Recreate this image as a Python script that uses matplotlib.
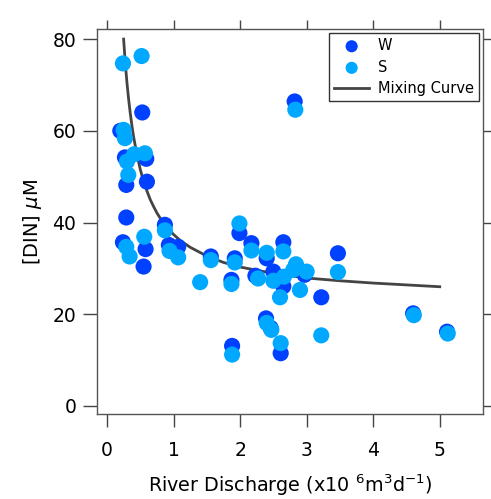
import matplotlib
matplotlib.use("Agg")
import matplotlib.pyplot as plt

# Data
w_discharge = [0.53, 0.20, 0.27, 0.59, 0.29, 0.60, 0.29, 0.87, 0.24, 0.58, 0.55,
               1.07, 0.93, 1.56, 1.99, 1.92, 1.87, 2.17, 2.40, 2.65, 2.23, 2.50,
               2.65, 2.97, 3.22, 3.47, 2.39, 2.46, 1.88, 2.61, 4.60, 5.11, 2.82]
w_din = [64.0, 60.0, 54.2, 53.9, 48.2, 48.9, 41.1, 39.5, 35.7, 34.2, 30.4,
         34.7, 35.1, 32.6, 37.7, 32.2, 27.5, 35.5, 32.2, 35.7, 28.4, 29.3,
         26.1, 28.6, 23.7, 33.3, 19.1, 17.0, 13.1, 11.5, 20.2, 16.2, 66.4]

s_discharge = [0.24, 0.52, 0.25, 0.27, 0.41, 0.57, 0.30, 0.32, 0.87, 0.29, 0.34,
               0.56, 0.94, 1.07, 1.56, 1.40, 1.99, 1.92, 1.87, 2.17, 2.40, 2.65,
               2.27, 2.50, 2.66, 2.60, 2.84, 3.00, 2.90, 2.80, 3.47, 3.22, 2.40,
               2.47, 1.88, 2.61, 4.61, 5.12, 2.83]
s_din = [74.7, 76.3, 60.2, 58.4, 54.9, 55.1, 53.3, 50.4, 38.3, 34.7, 32.6,
         36.9, 33.8, 32.4, 31.8, 27.0, 39.8, 31.3, 26.6, 33.9, 33.4, 33.7,
         27.8, 27.3, 28.2, 23.7, 30.9, 29.3, 25.3, 29.7, 29.2, 15.4, 18.1,
         16.6, 11.2, 13.7, 19.8, 15.8, 64.6]

# Mixing curve, points
curve_discharge = [0.25, 0.275, 0.3, 0.325, 0.35, 0.375, 0.4, 0.45, 0.5, 0.55,
                   0.6, 0.65, 0.7, 0.75, 0.8, 0.9, 1.0, 1.1, 1.25, 1.5, 1.75,
                   2.0, 2.5, 3.0, 3.5, 4.0, 4.5, 5.0]
curve_din = [80.0, 74.8, 70.5, 66.9, 63.8, 61.1, 58.7, 54.8, 51.6, 49.0,
             46.9, 45.0, 43.5, 42.1, 40.95, 39.0, 37.4, 36.1, 34.6, 32.7, 31.3,
             30.3, 28.9, 27.9, 27.3, 26.8, 26.4, 26.0]

W_COLOR = "#0040ff"
S_COLOR = "#00a9ff"
FRAME = "#555555"

fig = plt.figure(figsize=(4.91, 4.99), dpi=100)
ax = fig.add_axes([97 / 491, 85 / 499, 386 / 491, 385 / 499])

ax.plot(curve_discharge, curve_din, color="#444444", lw=2.0, zorder=1,
        label="Mixing Curve")
ax.scatter(w_discharge, w_din, s=135, color=W_COLOR, edgecolors="none",
           zorder=2, label="W")
ax.scatter(s_discharge, s_din, s=135, color=S_COLOR, edgecolors="none",
           zorder=3, label="S")

ax.set_xlim(-0.15, 5.65)
ax.set_ylim(-1.75, 82.2)
ax.set_xticks([0, 1, 2, 3, 4, 5])
ax.set_yticks([0, 20, 40, 60, 80])

for sp in ax.spines.values():
    sp.set_color(FRAME)
    sp.set_linewidth(1.0)

ax.tick_params(axis="both", which="major", direction="out", colors="#444444",
               labelcolor="black", labelsize=13.5, width=1.0)
ax.tick_params(axis="x", length=9.5, pad=10)
ax.tick_params(axis="y", length=10, pad=5)
ax.tick_params(top=True, right=True)
for t in ax.xaxis.get_major_ticks():
    t.tick2line.set_markersize(6.5)
for t in ax.yaxis.get_major_ticks():
    t.tick2line.set_markersize(6.5)

ax.set_xlabel(r"River Discharge (x10 $^{6}$m$^{3}$d$^{-1}$)", fontsize=13.8,
              labelpad=9)
ax.set_ylabel(r"[DIN] $\mu$M", fontsize=14, labelpad=6)

handles, labels = ax.get_legend_handles_labels()
order = [1, 2, 0]
leg = ax.legend([handles[i] for i in order], [labels[i] for i in order],
                loc="upper right", bbox_to_anchor=(1 - 4 / 386, 1 - 4 / 385),
                borderaxespad=0, fontsize=10.5, fancybox=False, framealpha=1,
                edgecolor="#333333", markerscale=0.75, handlelength=2.4,
                handletextpad=0.6, labelspacing=0.45, borderpad=0.35)
leg.get_frame().set_linewidth(1.0)

fig.savefig("out.png", dpi=100)
